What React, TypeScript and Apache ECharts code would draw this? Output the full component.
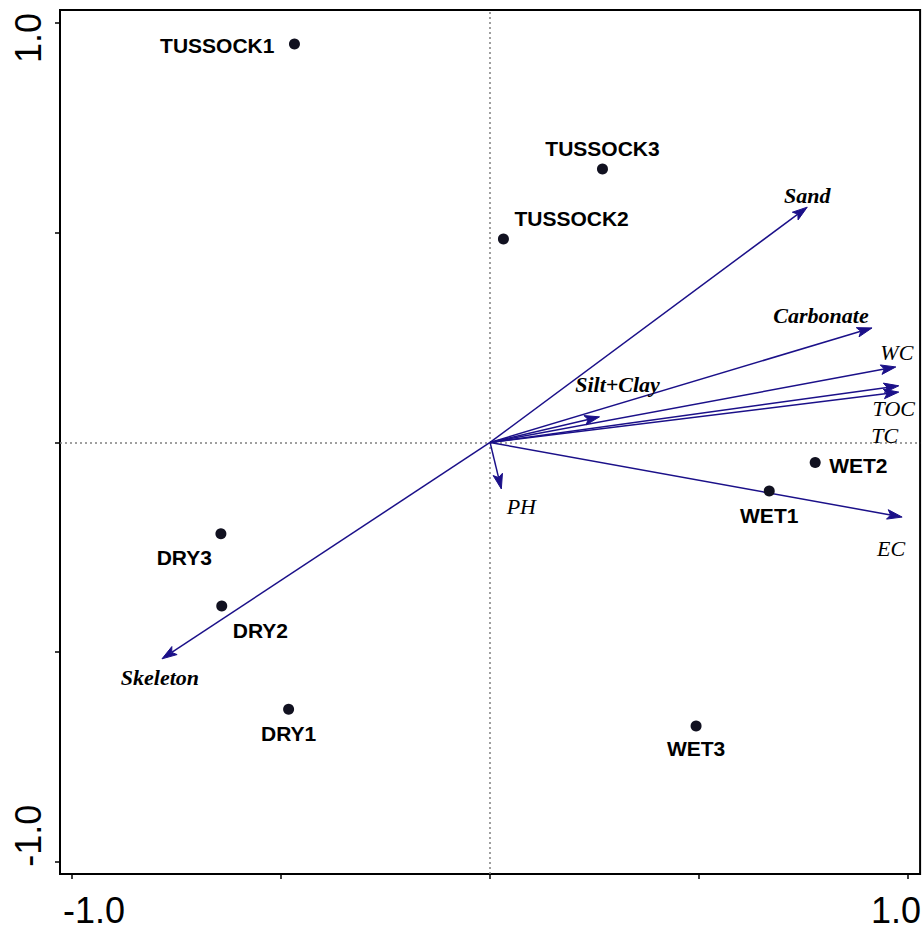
import React, { useEffect, useRef } from "react";
import * as echarts from "echarts";

// Sample (site) scores
const siteNames = ["TUSSOCK1", "TUSSOCK2", "TUSSOCK3", "WET1", "WET2", "WET3", "DRY1", "DRY2", "DRY3"];
const siteX = [-0.468, 0.032, 0.269, 0.668, 0.778, 0.493, -0.482, -0.642, -0.644];
const siteY = [0.95, 0.485, 0.652, -0.116, -0.048, -0.676, -0.636, -0.39, -0.218];

// Environmental variable vectors
const envNames = ["Sand", "Carbonate", "WC", "TOC", "TC", "Silt+Clay", "EC", "PH", "Skeleton"];
const envX = [0.759, 0.914, 0.971, 0.978, 0.978, 0.262, 0.986, 0.027, -0.785];
const envY = [0.561, 0.273, 0.18, 0.135, 0.12, 0.061, -0.178, -0.111, -0.516];

// Axis ticks and labels
const tickValues = [-1, -0.5, 0, 0.5, 1];
const labelValues = [-1, 1];

// Label placement (pixels, relative to the mark)
const siteLabelLayout: Record<string, { align: string; dx: number; dy: number }> = {
  TUSSOCK1: { align: "right", dx: -20, dy: 2 },
  TUSSOCK2: { align: "left", dx: 11, dy: -21 },
  TUSSOCK3: { align: "center", dx: 0, dy: -20 },
  WET1: { align: "center", dx: 0, dy: 24 },
  WET2: { align: "left", dx: 14, dy: 3 },
  WET3: { align: "center", dx: 0, dy: 23 },
  DRY1: { align: "center", dx: 0, dy: 24 },
  DRY2: { align: "left", dx: 11, dy: 25 },
  DRY3: { align: "right", dx: -9, dy: 24 },
};
const envLabelOffset: Record<string, [number, number]> = {
  Sand: [0, -12],
  Carbonate: [-51, -12],
  WC: [1, -14],
  TOC: [-5, 23],
  TC: [-14, 43],
  "Silt+Clay": [18, -32],
  EC: [-11, 31],
  PH: [20, 18],
  Skeleton: [-2, 19],
};
const envBold: Record<string, boolean> = { Sand: true, Carbonate: true, "Silt+Clay": true, Skeleton: true };

const ARROW = "#1b1089";

export default function App() {
  const ref = useRef<HTMLDivElement>(null);
  useEffect(() => {
    if (!ref.current) return;
    const chart = echarts.init(ref.current, null, { renderer: "svg" });

    const siteData = siteNames.map((n, i) => {
      const l = siteLabelLayout[n];
      return {
        name: n,
        value: [siteX[i], siteY[i]],
        label: { align: l.align, offset: [l.dx, l.dy] },
      };
    });
    const envData = envNames.map((n, i) => [envX[i], envY[i]]);

    const option: any = {
      animation: false,
      backgroundColor: "#fff",
      grid: {
        left: 60,
        top: 10,
        width: 861,
        height: 864,
        show: true,
        borderColor: "#000",
        borderWidth: 2,
        containLabel: false,
      },
      xAxis: {
        type: "value",
        min: -1.029,
        max: 1.029,
        position: "bottom",
        axisLine: { show: false, onZero: false },
        splitLine: { show: false },
        axisTick: {
          show: true,
          customValues: tickValues,
          length: 5,
          lineStyle: { color: "#000", width: 1.5 },
        },
        axisLabel: {
          show: true,
          customValues: labelValues,
          margin: 18,
          formatter: (v: number) => (v < 0 ? "{a|-1.0}" : "{b|1.0}"),
          rich: {
            a: { fontSize: 36, fontFamily: "Liberation Sans", color: "#000", padding: [0, 0, 0, 44] },
            b: { fontSize: 36, fontFamily: "Liberation Sans", color: "#000", padding: [0, 24, 0, 0] },
          },
        },
      },
      yAxis: {
        type: "value",
        min: -1.029,
        max: 1.031,
        position: "left",
        axisLine: { show: false, onZero: false },
        splitLine: { show: false },
        axisTick: {
          show: true,
          customValues: tickValues,
          length: 5,
          lineStyle: { color: "#000", width: 1.5 },
        },
        axisLabel: {
          show: true,
          rotate: 90,
          customValues: labelValues,
          margin: 14,
          formatter: (v: number) => (v < 0 ? "{a|-1.0}" : "{b|1.0}"),
          rich: {
            a: { fontSize: 36, fontFamily: "Liberation Sans", color: "#000", padding: [0, 0, 0, 52] },
            b: { fontSize: 36, fontFamily: "Liberation Sans", color: "#000", padding: [0, 30, 0, 0] },
          },
        },
      },
      series: [
        {
          type: "scatter",
          name: "sites",
          data: siteData,
          symbol: "circle",
          symbolSize: 11,
          itemStyle: { color: "#111120", opacity: 1 },
          z: 5,
          label: {
            show: true,
            position: "inside",
            formatter: "{b}",
            verticalAlign: "middle",
            color: "#000",
            opacity: 1,
            fontFamily: "Liberation Sans",
            fontWeight: "bold",
            fontSize: 21,
          },
          emphasis: { disabled: true },
          markLine: {
            silent: true,
            symbol: ["none", "none"],
            label: { show: false },
            lineStyle: { color: "#808080", type: [2, 3], width: 1.5, opacity: 1 },
            data: [{ xAxis: 0 }, { yAxis: 0 }],
            z: 1,
          },
        },
        {
          type: "custom",
          name: "env",
          data: envData,
          z: 4,
          encode: { x: 0, y: 1 },
          renderItem: (params: any, api: any) => {
            const name = envNames[params.dataIndex];
            const o = api.coord([0, 0]);
            const t = api.coord([api.value(0), api.value(1)]);
            const dx = t[0] - o[0];
            const dy = t[1] - o[1];
            const L = Math.hypot(dx, dy) || 1;
            const ux = dx / L;
            const uy = dy / L;
            const nx = -uy;
            const ny = ux;
            const hl = 15;
            const hw = 4.8;
            const bx = t[0] - ux * hl;
            const by = t[1] - uy * hl;
            const mx = t[0] - ux * hl * 0.78;
            const my = t[1] - uy * hl * 0.78;
            const off = envLabelOffset[name] || [0, 0];
            const bold = envBold[name];
            return {
              type: "group",
              children: [
                {
                  type: "line",
                  shape: { x1: o[0], y1: o[1], x2: mx, y2: my },
                  style: { stroke: ARROW, lineWidth: 1.5 },
                },
                {
                  type: "polygon",
                  shape: {
                    points: [
                      [t[0], t[1]],
                      [bx + nx * hw, by + ny * hw],
                      [mx, my],
                      [bx - nx * hw, by - ny * hw],
                    ],
                  },
                  style: { fill: ARROW, stroke: ARROW, lineWidth: 1 },
                },
                {
                  type: "text",
                  x: t[0] + off[0],
                  y: t[1] + off[1],
                  style: {
                    text: name,
                    fill: "#000",
                    font: `italic ${bold ? "bold " : ""}22px "Liberation Serif"`,
                    align: "center",
                    verticalAlign: "middle",
                    textAlign: "center",
                    textVerticalAlign: "middle",
                  },
                },
              ],
            };
          },
        },
      ],
    };
    chart.setOption(option);
    return () => chart.dispose();
  }, []);
  return (
    <div
      ref={ref}
      style={{ position: "fixed", left: 0, top: 0, width: 924, height: 930, background: "#fff" }}
    />
  );
}
